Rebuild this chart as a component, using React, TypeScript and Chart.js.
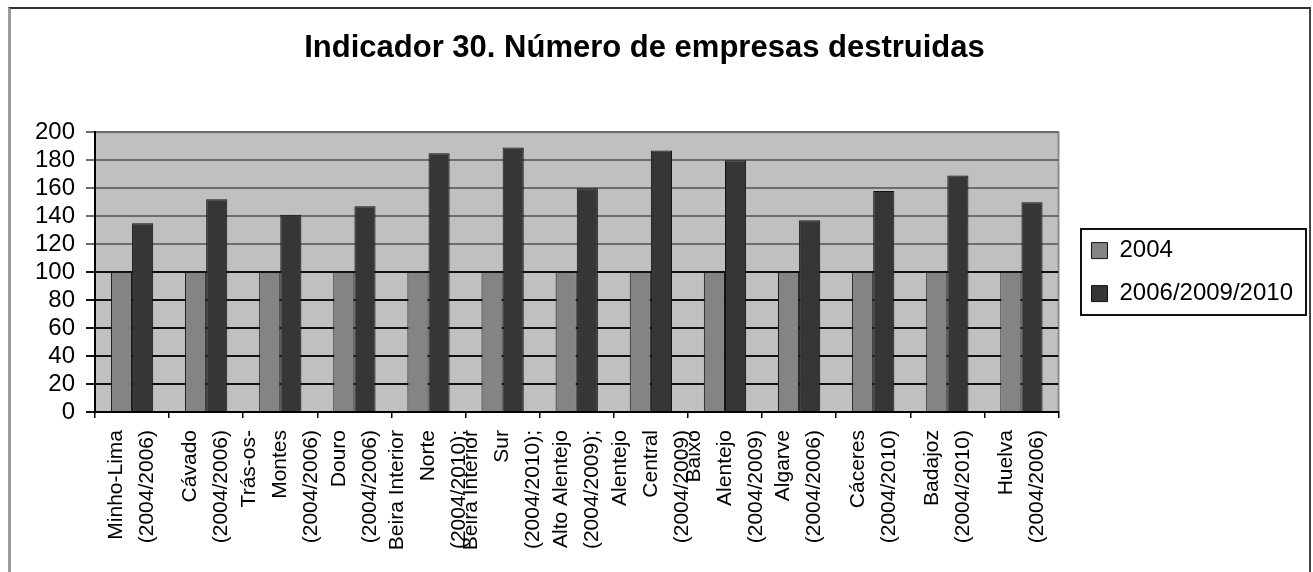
import { useEffect, useRef } from "react";
import { Chart, registerables } from "chart.js";

Chart.register(...registerables);

const categories: string[][] = [
  ["Minho-Lima", "(2004/2006)"],
  ["Cávado", "(2004/2006)"],
  ["Trás-os-", "Montes", "(2004/2006)"],
  ["Douro", "(2004/2006)"],
  ["Beira Interior", "Norte", "(2004/2010);"],
  ["Beira Interior", "Sur", "(2004/2010);"],
  ["Alto Alentejo", "(2004/2009);"],
  ["Alentejo", "Central", "(2004/2009)"],
  ["Baixo", "Alentejo", "(2004/2009)"],
  ["Algarve", "(2004/2006)"],
  ["Cáceres", "(2004/2010)"],
  ["Badajoz", "(2004/2010)"],
  ["Huelva", "(2004/2006)"],
];

const seriesNames = ["2004", "2006/2009/2010"];
const values2004 = [100, 100, 100, 100, 100, 100, 100, 100, 100, 100, 100, 100, 100];
const valuesLater = [135, 152, 141, 147, 185, 189, 160, 187, 180, 137, 158, 169, 150];

const yMin = 0;
const yMax = 200;
const yStep = 20;

const FONT = "'Liberation Sans', Arial, Helvetica, sans-serif";
const HALF_LINE = 15.5; // half of the spacing between label lines
const MAX_LINES = 3;

// place lines of a rotated label on half-line slots so the block is centred on its category
const slotLines = (lines: string[]) => {
  const n = lines.length;
  const out: string[] = new Array(n + MAX_LINES - 1).fill("");
  lines.forEach((t, j) => {
    out[2 * j + MAX_LINES - n] = t;
  });
  return out;
};

const plotFrame = {
  id: "plotFrame",
  beforeDraw(chart: any) {
    const { ctx, chartArea: a } = chart;
    ctx.save();
    ctx.fillStyle = "#c0c0c0";
    ctx.fillRect(a.left, a.top, a.width, a.height);
    ctx.strokeStyle = "#8c8c8c";
    ctx.lineWidth = 2;
    ctx.strokeRect(a.left, a.top, a.width, a.height);
    ctx.restore();
  },
};

const legendFrame = {
  id: "legendFrame",
  afterLayout(chart: any) {
    const lg = chart.legend;
    if (!lg) return;
    const shift = chart.chartArea.right + 14 - lg.left;
    lg.left += shift;
    lg.right += shift;
  },
  afterDraw(chart: any) {
    const lg = chart.legend;
    if (!lg || !lg.legendHitBoxes || !lg.legendHitBoxes.length) return;
    const hb = lg.legendHitBoxes;
    const left = Math.min(...hb.map((h: any) => h.left)) - 10;
    const right = Math.max(...hb.map((h: any) => h.left + h.width)) + 13;
    const top = Math.min(...hb.map((h: any) => h.top)) - 10;
    const bottom = Math.max(...hb.map((h: any) => h.top + h.height)) + 9;
    const { ctx } = chart;
    ctx.save();
    ctx.strokeStyle = "#111";
    ctx.lineWidth = 2;
    ctx.strokeRect(Math.round(left), Math.round(top), Math.round(right - left), Math.round(bottom - top));
    ctx.restore();
  },
};

export default function App() {
  const canvasRef = useRef<HTMLCanvasElement | null>(null);

  useEffect(() => {
    const canvas = canvasRef.current;
    if (!canvas) return;
    const chart = new Chart(canvas, {
      type: "bar",
      data: {
        labels: categories,
        datasets: [
          {
            label: seriesNames[0],
            data: values2004,
            backgroundColor: "#848484",
            borderColor: "#111",
            borderWidth: 1,
            categoryPercentage: 0.57,
            barPercentage: 1,
          },
          {
            label: seriesNames[1],
            data: valuesLater,
            backgroundColor: "#363636",
            borderColor: "#111",
            borderWidth: 1,
            categoryPercentage: 0.57,
            barPercentage: 1,
          },
        ],
      },
      options: {
        animation: false,
        responsive: false,
        maintainAspectRatio: false,
        layout: { padding: { top: 8, right: 24, bottom: 0, left: 0 } },
        plugins: {
          title: {
            display: true,
            text: "Indicador 30. Número de empresas destruidas",
            color: "#000",
            font: { family: FONT, size: 31, weight: "bold" },
            padding: { top: 22, bottom: 65 },
          },
          legend: {
            display: true,
            position: "right",
            fullSize: false,
            align: "center",
            labels: {
              color: "#000",
              font: { family: FONT, size: 24 },
              boxWidth: 16,
              boxHeight: 16,
              padding: 19,
            },
          },
          tooltip: { enabled: false },
        },
        scales: {
          x: {
            offset: true,
            grid: {
              display: true,
              drawOnChartArea: false,
              drawTicks: true,
              tickLength: 6,
              color: "#000",
              lineWidth: 1.5,
              offset: true,
            },
            border: { display: true, color: "#000", width: 2 },
            ticks: {
              autoSkip: false,
              minRotation: 90,
              maxRotation: 90,
              padding: 12,
              labelOffset: -2 * HALF_LINE,
              color: "#000",
              font: { family: FONT, size: 21, lineHeight: HALF_LINE + "px" },
              callback: (_v: any, i: number) => slotLines(categories[i]),
            },
            afterFit: (scale: any) => {
              scale.height = 160;
            },
          },
          y: {
            min: yMin,
            max: yMax,
            grid: {
              color: (c: any) => (c.tick && c.tick.value > 100 ? "#6e6e6e" : "#111"),
              lineWidth: 2,
              drawTicks: true,
              tickLength: 9,
            },
            border: { display: true, color: "#000", width: 2 },
            ticks: {
              stepSize: yStep,
              autoSkip: false,
              padding: 11,
              color: "#000",
              font: { family: FONT, size: 24, lineHeight: 1 },
            },
            afterFit: (scale: any) => {
              scale.width = 95;
            },
          },
        },
      },
      plugins: [plotFrame, legendFrame],
    });
    return () => chart.destroy();
  }, []);

  return (
    <div
      style={{
        position: "fixed",
        left: 0,
        top: 0,
        width: 1313,
        height: 572,
        overflow: "hidden",
        background: "#fff",
      }}
    >
      <div
        style={{
          position: "absolute",
          left: 8,
          top: 7,
          width: 1303,
          height: 620,
          boxSizing: "border-box",
          borderTop: "2px solid #333",
          borderLeft: "3px solid #9a9a9a",
          borderRight: "2px solid #444",
        }}
      />
      <canvas
        ref={canvasRef}
        width={1313}
        height={572}
        style={{ position: "absolute", left: 0, top: 0, width: 1313, height: 572 }}
      />
    </div>
  );
}
